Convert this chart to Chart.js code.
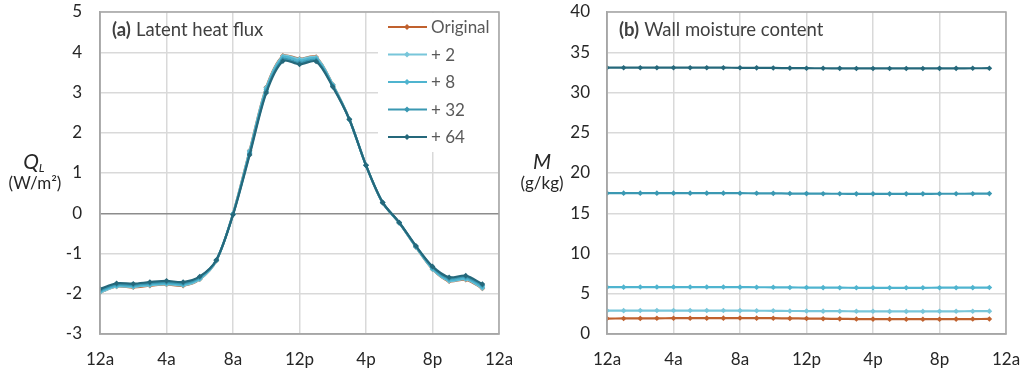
<!DOCTYPE html>
<html>
<head>
<meta charset="utf-8">
<script src="https://cdn.jsdelivr.net/npm/chart.js@4/dist/chart.umd.min.js"></script>
<style>
  body { margin: 0; background: #fff; }
  #wrap { position: relative; width: 1024px; height: 376px; }
  .box { position: absolute; top: 0; height: 376px; }
</style>
</head>
<body>
<div id="wrap">
  <div class="box" style="left:0;width:512px"><canvas id="chartA"></canvas></div>
  <div class="box" style="left:512px;width:512px"><canvas id="chartB"></canvas></div>
</div>
<script>
// hours of day (0 = midnight)
var hours = [0,1,2,3,4,5,6,7,8,9,10,11,12,13,14,15,16,17,18,19,20,21,22,23];
var tickLabels = ['12a','4a','8a','12p','4p','8p','12a'];
var seriesNames = ['Original', '+ 2', '+ 8', '+ 32', '+ 64'];
var seriesColors = ['#c0612e', '#78c6da', '#4fb4cf', '#3a98b2', '#25687b'];

// (a) latent heat flux, W/m2
var qlOriginal = [-1.97,-1.82,-1.84,-1.80,-1.77,-1.80,-1.64,-1.18,-0.01,1.56,3.13,3.91,3.84,3.88,3.20,2.34,1.19,0.26,-0.24,-0.84,-1.39,-1.69,-1.65,-1.87];
var qlPlus2    = [-1.97,-1.82,-1.83,-1.79,-1.76,-1.79,-1.64,-1.18,-0.01,1.55,3.12,3.90,3.83,3.87,3.20,2.34,1.19,0.26,-0.24,-0.84,-1.39,-1.68,-1.64,-1.86];
var qlPlus8    = [-1.94,-1.80,-1.81,-1.77,-1.74,-1.77,-1.62,-1.17,-0.02,1.52,3.08,3.87,3.79,3.84,3.18,2.33,1.19,0.26,-0.24,-0.83,-1.37,-1.66,-1.62,-1.83];
var qlPlus32   = [-1.91,-1.77,-1.78,-1.74,-1.71,-1.74,-1.59,-1.16,-0.03,1.48,3.03,3.82,3.74,3.80,3.16,2.33,1.19,0.27,-0.23,-0.82,-1.34,-1.62,-1.58,-1.79];
var qlPlus64   = [-1.88,-1.74,-1.75,-1.71,-1.68,-1.71,-1.57,-1.16,-0.04,1.45,2.99,3.78,3.70,3.77,3.14,2.33,1.19,0.27,-0.23,-0.81,-1.32,-1.59,-1.55,-1.76];

// (b) wall moisture content, g/kg
var mOriginal = [1.92,1.93,1.94,1.95,1.96,1.96,1.97,1.97,1.98,1.97,1.96,1.94,1.92,1.90,1.88,1.86,1.85,1.84,1.84,1.84,1.84,1.85,1.86,1.87];
var mPlus2    = [2.90,2.90,2.91,2.91,2.91,2.91,2.91,2.91,2.90,2.89,2.88,2.86,2.85,2.84,2.83,2.82,2.82,2.81,2.81,2.81,2.82,2.82,2.83,2.84];
var mPlus8    = [5.82,5.82,5.83,5.83,5.83,5.83,5.83,5.83,5.82,5.81,5.80,5.78,5.77,5.76,5.75,5.74,5.74,5.74,5.74,5.74,5.75,5.75,5.76,5.77];
var mPlus32   = [17.50,17.50,17.50,17.50,17.50,17.50,17.50,17.50,17.49,17.48,17.47,17.45,17.44,17.43,17.42,17.41,17.41,17.41,17.41,17.41,17.42,17.42,17.43,17.44];
var mPlus64   = [33.08,33.08,33.08,33.08,33.08,33.08,33.08,33.08,33.07,33.06,33.05,33.03,33.02,33.01,33.00,32.99,32.99,32.99,32.99,32.99,33.00,33.00,33.01,33.02];

var FONT = 'Lato, "Noto Sans", sans-serif';

function pts(vals) {
  return hours.map(function(h, i) { return { x: h, y: vals[i] }; });
}

function makeDatasets(list) {
  return list.map(function(vals, i) {
    return {
      label: seriesNames[i],
      data: pts(vals),
      order: list.length - i, // later series drawn on top
      borderColor: seriesColors[i],
      backgroundColor: seriesColors[i],
      borderWidth: 2.2,
      pointStyle: 'rectRot',
      pointRadius: 2.8,
      pointBorderWidth: 0,
      tension: 0.3
    };
  });
}

// frame around the plot area, title text and y axis caption
function decorPlugin(title, tag, yMain, ySub, yUnit, cx, showLegend) {
  return {
    id: 'decor',
    beforeDatasetsDraw: function(chart) {
      var c = chart.ctx, a = chart.chartArea;
      c.save();
      if (showLegend) {
        c.fillStyle = '#fff';
        c.fillRect(a.right - 121, a.top + 1, 120, 139);
        var y0 = a.top + 15;
        for (var i = 0; i < seriesNames.length; i++) {
          var y = y0 + i * 27.5;
          c.strokeStyle = seriesColors[i];
          c.lineWidth = 2;
          c.beginPath(); c.moveTo(388, y); c.lineTo(427, y); c.stroke();
          c.fillStyle = seriesColors[i];
          c.beginPath();
          c.moveTo(407, y - 3); c.lineTo(410, y); c.lineTo(407, y + 3); c.lineTo(404, y);
          c.closePath(); c.fill();
          c.fillStyle = '#595959';
          c.font = '17px ' + FONT;
          c.textBaseline = 'middle';
          c.fillText(seriesNames[i], 431, y + 1);
        }
      }
      c.restore();
    },
    afterDraw: function(chart) {
      var c = chart.ctx, a = chart.chartArea;
      c.save();
      c.strokeStyle = '#a6a6a6';
      c.lineWidth = 1.5;
      c.strokeRect(a.left, a.top, a.right - a.left, a.bottom - a.top);
      // panel title
      c.textBaseline = 'middle';
      c.fillStyle = '#404040';
      c.font = 'bold 18.5px ' + FONT;
      var x = a.left + 12;
      c.fillText(tag, x, a.top + 18);
      x += c.measureText(tag).width + 5;
      c.font = '18.5px ' + FONT;
      c.fillText(title, x, a.top + 18);
      // y caption
      c.fillStyle = '#262626';
      c.textAlign = 'center';
      c.font = 'italic 21px ' + FONT;
      var w = c.measureText(yMain).width;
      c.fillText(yMain, cx - (ySub ? 4 : 0), 162);
      if (ySub) {
        c.font = 'italic 12px ' + FONT;
        c.textAlign = 'left';
        c.fillText(ySub, cx - 4 + w / 2, 168);
        c.textAlign = 'center';
      }
      c.font = '17px ' + FONT;
      c.fillText(yUnit, cx, 184);
      c.restore();
    }
  };
}

function xScale() {
  return {
    type: 'linear', min: 0, max: 24,
    afterFit: function(s) { s.height = 42; s.paddingLeft = 0; s.paddingRight = 0; },
    grid: { color: '#d9d9d9', lineWidth: 1.5, drawTicks: false },
    border: { color: '#a6a6a6', width: 1.5 },
    ticks: {
      stepSize: 4, padding: 15, color: '#262626', font: { family: FONT, size: 17 },
      maxRotation: 0,
      callback: function(v) { return tickLabels[v / 4]; }
    }
  };
}

function yFit(w) {
  return function(s) { s.width = w; s.paddingTop = 0; s.paddingBottom = 0; };
}

new Chart(document.getElementById('chartA'), {
  type: 'line',
  data: { datasets: makeDatasets([qlOriginal, qlPlus2, qlPlus8, qlPlus32, qlPlus64]) },
  options: {
    responsive: true, maintainAspectRatio: false, animation: false,
    layout: { padding: { top: 12, right: 13, left: 0, bottom: 0 } },
    plugins: { legend: { display: false }, tooltip: { enabled: false } },
    scales: {
      x: xScale(),
      y: {
        min: -3, max: 5,
        afterFit: yFit(100),
        grid: {
          drawTicks: false, lineWidth: 1.5,
          color: function(ctx) { return ctx.tick && ctx.tick.value === 0 ? '#8c8c8c' : '#d9d9d9'; }
        },
        border: { color: '#a6a6a6', width: 1.5 },
        ticks: { stepSize: 1, padding: 18, color: '#262626', font: { family: FONT, size: 17 } }
      }
    }
  },
  plugins: [decorPlugin('Latent heat flux', '(a)', 'Q', 'L', '(W/m\u00b2)', 35, true)]
});

new Chart(document.getElementById('chartB'), {
  type: 'line',
  data: { datasets: makeDatasets([mOriginal, mPlus2, mPlus8, mPlus32, mPlus64]) },
  options: {
    responsive: true, maintainAspectRatio: false, animation: false,
    layout: { padding: { top: 12, right: 18, left: 0, bottom: 0 } },
    plugins: { legend: { display: false }, tooltip: { enabled: false } },
    scales: {
      x: xScale(),
      y: {
        min: 0, max: 40,
        afterFit: yFit(95),
        grid: { drawTicks: false, lineWidth: 1.5, color: '#d9d9d9' },
        border: { color: '#a6a6a6', width: 1.5 },
        ticks: { stepSize: 5, padding: 17, color: '#262626', font: { family: FONT, size: 17 } }
      }
    }
  },
  plugins: [decorPlugin('Wall moisture content', '(b)', 'M', '', '(g/kg)', 30, false)]
});
</script>
</body>
</html>
